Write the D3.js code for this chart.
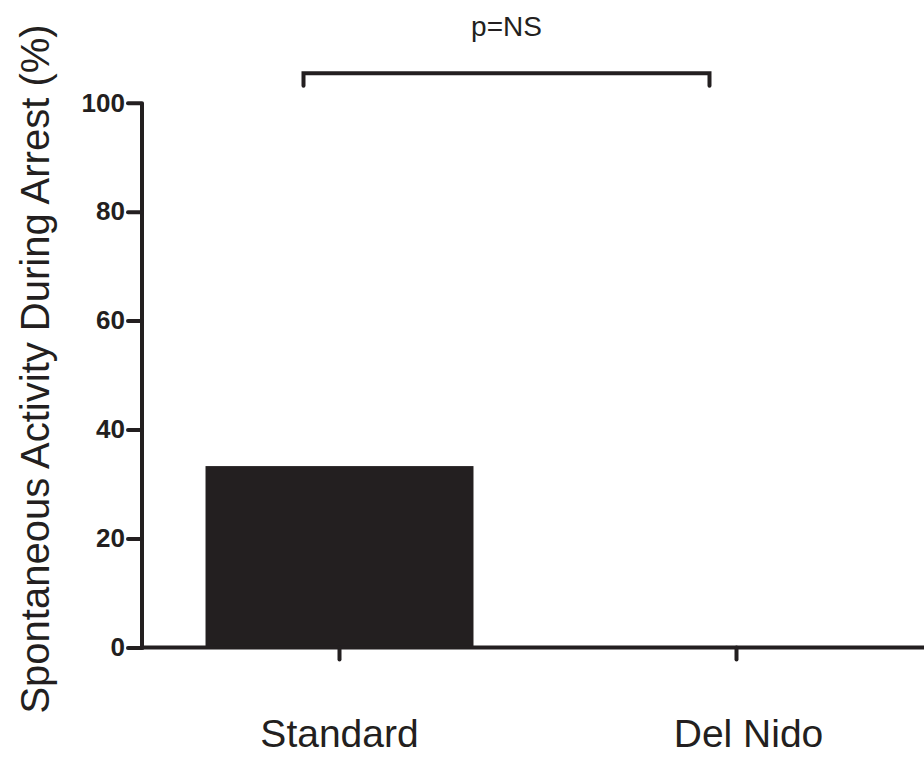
<!DOCTYPE html>
<html>
<head>
<meta charset="utf-8">
<script src="https://cdn.jsdelivr.net/npm/d3@7"></script>
<style>
  body { margin: 0; background: #fff; }
  svg { display: block; font-family: Arial, "Liberation Sans", sans-serif; }
</style>
</head>
<body>
<svg width="924" height="757"></svg>
<script>
const categories = ['Standard', 'Del Nido'];
const values = [33.3, 0];
const yTicks = [0, 20, 40, 60, 80, 100];
const yTitle = 'Spontaneous Activity During Arrest (%)';
const pLabel = 'p=NS';

const width = 924;
const height = 757;
const ink = '#231f20';

const svg = d3.select('svg');

const xScale = d3.scaleBand()
    .domain(categories)
    .range([142, 934])
    .paddingInner(0.325)
    .paddingOuter(0.16);

const yScale = d3.scaleLinear()
    .domain([0, 100])
    .range([647.5, 102.7]);

// bars
svg.selectAll('.bar')
    .data(categories)
    .enter()
    .append('rect')
    .classed('bar', true)
    .attr('x', d => xScale(d))
    .attr('y', (d, i) => yScale(values[i]))
    .attr('width', xScale.bandwidth())
    .attr('height', (d, i) => yScale(0) - yScale(values[i]))
    .attr('fill', ink);

// y axis
const yAxis = d3.axisLeft(yScale)
    .tickValues(yTicks)
    .tickSizeInner(14)
    .tickSizeOuter(0)
    .tickPadding(3);

const yG = svg.append('g')
    .attr('transform', 'translate(142, 0)')
    .call(yAxis);
yG.select('.domain').attr('stroke', ink).attr('stroke-width', 4)
    .attr('d', `M0,${yScale(100)}V${yScale(0) + 2}`);
yG.selectAll('.tick line').attr('stroke', ink).attr('stroke-width', 4).attr('stroke-linecap', 'round');
yG.selectAll('.tick text')
    .attr('fill', ink)
    .style('font-size', '26px')
    .style('font-weight', 'bold')
    .style('font-family', 'Arial, "Liberation Sans", sans-serif');

// x axis
const xAxis = d3.axisBottom(xScale)
    .tickSizeInner(12)
    .tickSizeOuter(0)
    .tickPadding(60);

const xG = svg.append('g')
    .attr('transform', `translate(0, ${yScale(0)})`)
    .call(xAxis);
xG.select('.domain').attr('stroke', ink).attr('stroke-width', 4)
    .attr('d', `M140,0H${width}`);
xG.selectAll('.tick line').attr('stroke', ink).attr('stroke-width', 4).attr('stroke-linecap', 'round');
xG.selectAll('.tick text')
    .attr('fill', ink)
    .attr('dx', (d, i) => i === 1 ? 12 : 0)
    .style('font-size', '39px')
    .style('font-family', 'Arial, "Liberation Sans", sans-serif');

// y title
svg.append('text')
    .attr('transform', 'rotate(-90)')
    .attr('x', -369)
    .attr('y', 49)
    .attr('fill', ink)
    .style('text-anchor', 'middle')
    .style('font-size', '40px')
    .text(yTitle);

// significance bracket
const bx0 = xScale(categories[0]) + xScale.bandwidth() / 2 - 36;
const bx1 = xScale(categories[1]) + xScale.bandwidth() / 2 - 27;
const bTop = yScale(105.4);
const bEnd = yScale(103.1);
svg.append('path')
    .attr('d', `M${bx0},${bEnd}V${bTop}H${bx1}V${bEnd}`)
    .attr('fill', 'none')
    .attr('stroke', ink)
    .attr('stroke-width', 4)
    .attr('stroke-linecap', 'round');

svg.append('text')
    .attr('x', (bx0 + bx1) / 2)
    .attr('y', 36)
    .attr('fill', ink)
    .style('text-anchor', 'middle')
    .style('font-size', '28px')
    .text(pLabel);
</script>
</body>
</html>
